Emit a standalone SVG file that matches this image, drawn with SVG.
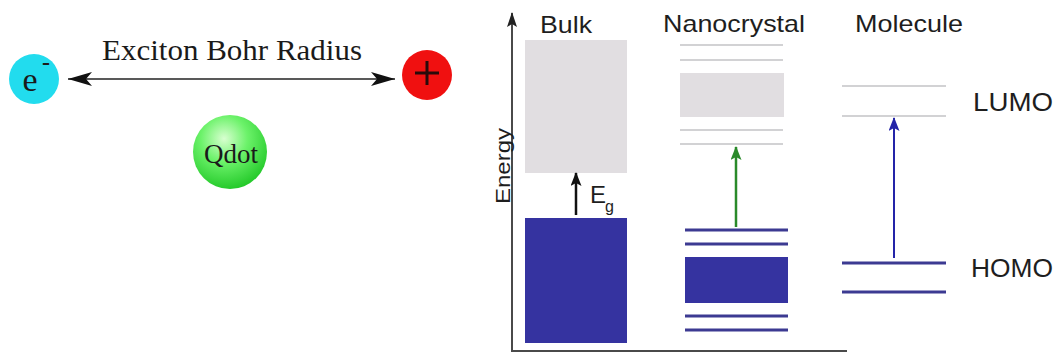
<svg xmlns="http://www.w3.org/2000/svg" width="1058" height="360" viewBox="0 0 1058 360">
  <style>
    .serif { font-family: "Liberation Serif", "Times New Roman", serif; fill: #1a1a1a; }
    .sans { font-family: "Liberation Sans", Arial, sans-serif; fill: #1e1e1e; }
    .gray-band { fill: #e1dee1; }
    .blue-band { fill: #3533a0; }
    .gray-level { stroke: #d2d2d4; stroke-width: 2; }
    .blue-level { stroke: #3c3a92; stroke-width: 3; }
    .axis { fill: none; stroke: #4a4a4a; stroke-width: 2; }
  </style>
  <defs>
    <radialGradient id="qdotFill" cx="0.42" cy="0.32" r="0.7">
      <stop offset="0" stop-color="#d8ffd0"/>
      <stop offset="0.45" stop-color="#6cf26a"/>
      <stop offset="1" stop-color="#22c828"/>
    </radialGradient>
    <marker id="concaveHead" viewBox="0 0 24 14" refX="24" refY="7" markerWidth="24" markerHeight="14" markerUnits="userSpaceOnUse" orient="auto-start-reverse">
      <path d="M24,7 L0,0 L6,7 L0,14 Z" fill="#111"/>
    </marker>
    <marker id="headBlack" viewBox="0 0 14 11" refX="13" refY="5.5" markerWidth="14" markerHeight="11" markerUnits="userSpaceOnUse" orient="auto">
      <path d="M14,5.5 L0,0 L3,5.5 L0,11 Z" fill="#111"/>
    </marker>
    <marker id="headGreen" viewBox="0 0 14 11" refX="13" refY="5.5" markerWidth="14" markerHeight="11" markerUnits="userSpaceOnUse" orient="auto">
      <path d="M14,5.5 L0,0 L3,5.5 L0,11 Z" fill="#2a8a2a"/>
    </marker>
    <marker id="headBlue" viewBox="0 0 14 11" refX="13" refY="5.5" markerWidth="14" markerHeight="11" markerUnits="userSpaceOnUse" orient="auto">
      <path d="M14,5.5 L0,0 L3,5.5 L0,11 Z" fill="#2424a8"/>
    </marker>
    <marker id="headAxis" viewBox="0 0 15 10" refX="14" refY="5" markerWidth="15" markerHeight="10" markerUnits="userSpaceOnUse" orient="auto-start-reverse">
      <path d="M15,5 L0,0 L3,5 L0,10 Z" fill="#222"/>
    </marker>
  </defs>

  <rect width="1058" height="360" fill="#ffffff"/>

  <!-- Exciton picture -->
  <g id="electron">
    <circle cx="34" cy="79" r="25" fill="#22dcee"/>
    <text class="serif" x="30" y="91" font-size="34" text-anchor="middle">e</text>
    <text class="serif" x="46" y="70" font-size="24" font-weight="bold" text-anchor="middle">-</text>
  </g>
  <g id="hole">
    <circle cx="427" cy="75" r="25" fill="#f01010"/>
    <path d="M415,73 H439 M427,61 V85" stroke="#2a0a0a" stroke-width="3"/>
  </g>
  <g id="qdot">
    <circle cx="230" cy="152" r="37" fill="url(#qdotFill)"/>
    <text class="serif" x="231" y="163" font-size="27" text-anchor="middle">Qdot</text>
  </g>
  <g id="connectors-exciton">
    <line x1="68" y1="79" x2="395" y2="79" stroke="#222" stroke-width="1.5" marker-start="url(#concaveHead)" marker-end="url(#concaveHead)"/>
  </g>
  <text class="serif" x="102" y="60" font-size="29" textLength="260" lengthAdjust="spacingAndGlyphs">Exciton Bohr Radius</text>

  <!-- Energy axes -->
  <g id="axes">
    <path class="axis" d="M512,13 V351 H847" marker-start="url(#headAxis)"/>
    <text class="sans" transform="translate(510,166) rotate(-90)" font-size="21" text-anchor="middle" textLength="76" lengthAdjust="spacingAndGlyphs">Energy</text>
  </g>

  <!-- Bulk -->
  <g id="bulk">
    <text class="sans" x="540" y="33" font-size="24" textLength="52" lengthAdjust="spacingAndGlyphs">Bulk</text>
    <rect class="gray-band" x="525" y="40" width="102" height="133"/>
    <rect class="blue-band" x="525" y="218" width="102" height="125"/>
    <text class="sans" x="590" y="203" font-size="24">E</text>
    <text class="sans" x="605" y="212" font-size="16">g</text>
  </g>

  <!-- Nanocrystal -->
  <g id="nanocrystal">
    <text class="sans" x="663" y="32" font-size="24" textLength="142" lengthAdjust="spacingAndGlyphs">Nanocrystal</text>
    <line class="gray-level" x1="680" y1="45" x2="783" y2="45"/>
    <line class="gray-level" x1="680" y1="60" x2="783" y2="60"/>
    <rect class="gray-band" x="680" y="73" width="104" height="44"/>
    <line class="gray-level" x1="680" y1="130" x2="783" y2="130"/>
    <line class="gray-level" x1="680" y1="144" x2="783" y2="144"/>
    <line class="blue-level" x1="685" y1="230" x2="788" y2="230"/>
    <line class="blue-level" x1="685" y1="244" x2="788" y2="244"/>
    <rect class="blue-band" x="685" y="257" width="103" height="46"/>
    <line class="blue-level" x1="685" y1="316" x2="788" y2="316"/>
    <line class="blue-level" x1="685" y1="330" x2="788" y2="330"/>
  </g>

  <!-- Molecule -->
  <g id="molecule">
    <text class="sans" x="855" y="32" font-size="24" textLength="108" lengthAdjust="spacingAndGlyphs">Molecule</text>
    <line class="gray-level" x1="842" y1="86" x2="946" y2="86"/>
    <line class="gray-level" x1="842" y1="116" x2="946" y2="116"/>
    <line class="blue-level" x1="842" y1="263" x2="946" y2="263"/>
    <line class="blue-level" x1="842" y1="292" x2="946" y2="292"/>
    <text class="sans" x="973" y="111" font-size="26" textLength="80" lengthAdjust="spacingAndGlyphs">LUMO</text>
    <text class="sans" x="971" y="277" font-size="26" textLength="82" lengthAdjust="spacingAndGlyphs">HOMO</text>
  </g>

  <!-- Transitions -->
  <g id="connectors">
    <line x1="576" y1="215" x2="576" y2="173" stroke="#111" stroke-width="2.5" marker-end="url(#headBlack)"/>
    <line x1="736" y1="227" x2="736" y2="147" stroke="#2a8a2a" stroke-width="2.5" marker-end="url(#headGreen)"/>
    <line x1="894" y1="258" x2="894" y2="118" stroke="#2424a8" stroke-width="2" marker-end="url(#headBlue)"/>
  </g>
</svg>
